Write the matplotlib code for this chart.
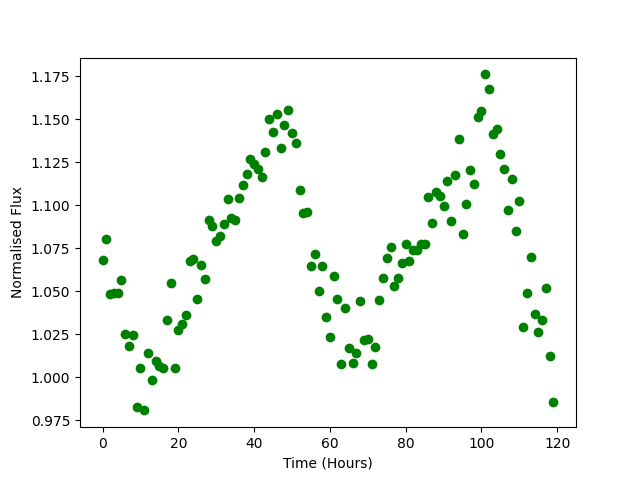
import matplotlib
matplotlib.use("Agg")
import matplotlib.pyplot as plt

time_hours = [
    0, 1, 2, 3, 4, 5, 6, 7, 8, 9, 10, 11, 12, 13, 14, 15, 16, 17, 18, 19,
    20, 21, 22, 23, 24, 25, 26, 27, 28, 29, 30, 31, 32, 33, 34, 35, 36, 37, 38, 39,
    40, 41, 42, 43, 44, 45, 46, 47, 48, 49, 50, 51, 52, 53, 54, 55, 56, 57, 58, 59,
    60, 61, 62, 63, 64, 65, 66, 67, 68, 69, 70, 71, 72, 73, 74, 75, 76, 77, 78, 79,
    80, 81, 82, 83, 84, 85, 86, 87, 88, 89, 90, 91, 92, 93, 94, 95, 96, 97, 98, 99,
    100, 101, 102, 103, 104, 105, 106, 107, 108, 109, 110, 111, 112, 113, 114, 115, 116, 117, 118, 119,
]

normalised_flux = [
    1.0680, 1.0801, 1.0487, 1.0492, 1.0492, 1.0564, 1.0254, 1.0180, 1.0248, 0.9826,
    1.0052, 0.9808, 1.0144, 0.9987, 1.0097, 1.0064, 1.0056, 1.0331, 1.0551, 1.0056,
    1.0277, 1.0312, 1.0360, 1.0674, 1.0686, 1.0458, 1.0651, 1.0574, 1.0917, 1.0882,
    1.0792, 1.0820, 1.0888, 1.1035, 1.0926, 1.0917, 1.1041, 1.1115, 1.1184, 1.1267,
    1.1238, 1.1209, 1.1165, 1.1308, 1.1498, 1.1423, 1.1529, 1.1330, 1.1465, 1.1556,
    1.1417, 1.1359, 1.1091, 1.0952, 1.0958, 1.0644, 1.0719, 1.0504, 1.0644, 1.0353,
    1.0233, 1.0587, 1.0458, 1.0080, 1.0405, 1.0169, 1.0085, 1.0144, 1.0442, 1.0215,
    1.0225, 1.0080, 1.0178, 1.0448, 1.0580, 1.0696, 1.0756, 1.0533, 1.0580, 1.0667,
    1.0773, 1.0678, 1.0737, 1.0740, 1.0773, 1.0773, 1.1047, 1.0899, 1.1074, 1.1056,
    1.0996, 1.1138, 1.0907, 1.1178, 1.1382, 1.0830, 1.1006, 1.1203, 1.1126, 1.1510,
    1.1545, 1.1760, 1.1678, 1.1411, 1.1442, 1.1295, 1.1208, 1.0975, 1.1155, 1.0853,
    1.1027, 1.0295, 1.0490, 1.0702, 1.0366, 1.0266, 1.0335, 1.0517, 1.0126, 0.9859,
]

fig, ax = plt.subplots(figsize=(6.4, 4.8), dpi=100)
ax.plot(time_hours, normalised_flux, 'o', color='green')
ax.set_xlabel('Time (Hours)')
ax.set_ylabel('Normalised Flux')
fig.savefig('out.png', dpi=100)
